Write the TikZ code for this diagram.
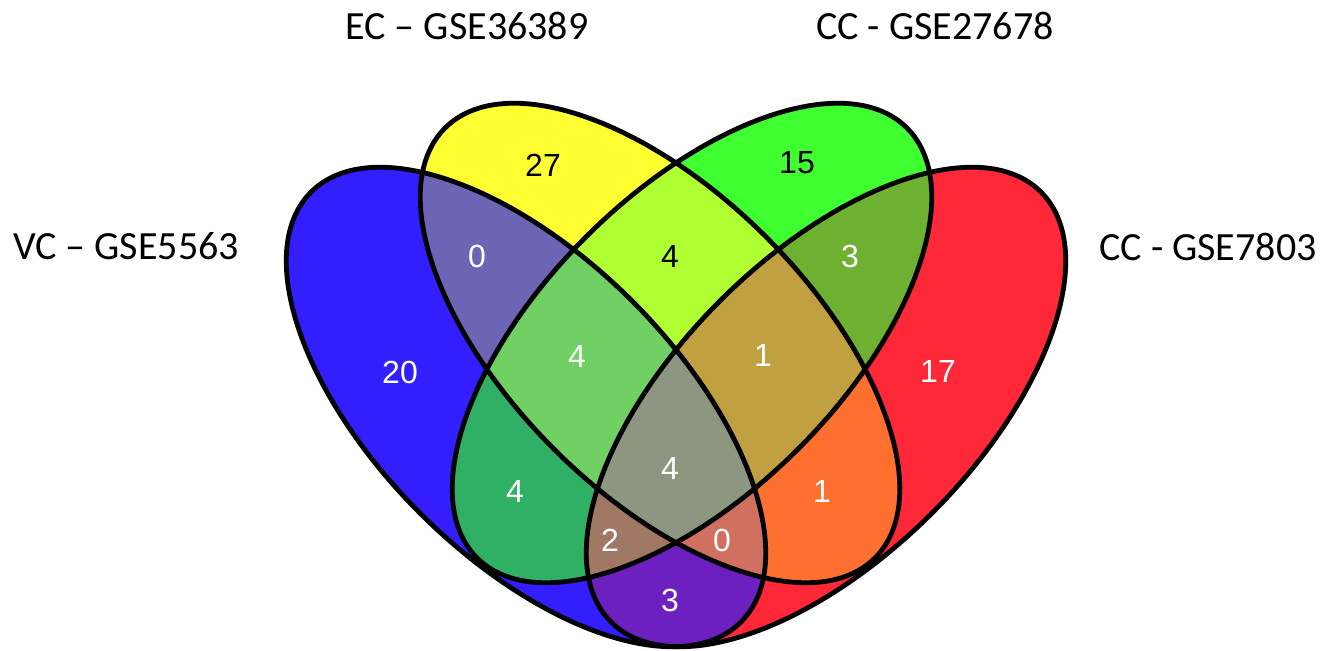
\documentclass[tikz,border=0pt]{standalone}
\usepackage{fontspec}
\setmainfont{Liberation Sans}
\newfontfamily\titlefont{Carlito}
\definecolor{cB}{RGB}{50,30,255}
\definecolor{cY}{RGB}{255,255,50}
\definecolor{cG}{RGB}{64,255,48}
\definecolor{cR}{RGB}{255,40,56}
\definecolor{cBY}{RGB}{108,100,180}
\definecolor{cYG}{RGB}{176,255,50}
\definecolor{cGR}{RGB}{110,176,50}
\definecolor{cBG}{RGB}{48,176,100}
\definecolor{cYR}{RGB}{255,112,48}
\definecolor{cBR}{RGB}{108,32,192}
\definecolor{cBYG}{RGB}{112,208,100}
\definecolor{cYGR}{RGB}{192,160,64}
\definecolor{cBGR}{RGB}{160,120,100}
\definecolor{cBYR}{RGB}{208,112,96}
\definecolor{cAll}{RGB}{140,150,128}
\newcommand{\shB}[1]{\path[#1,rotate around={-45:(526,244)}] (526,244) ellipse [x radius=304,y radius=150];}
\newcommand{\shY}[1]{\path[#1,rotate around={-45:(660,308)}] (660,308) ellipse [x radius=304,y radius=150];}
\newcommand{\shG}[1]{\path[#1,rotate around={45:(692,308)}] (692,308) ellipse [x radius=304,y radius=150];}
\newcommand{\shR}[1]{\path[#1,rotate around={45:(826,244)}] (826,244) ellipse [x radius=304,y radius=150];}
\begin{document}
\begin{tikzpicture}[x=0.5pt,y=0.5pt,
  num/.style={font=\fontsize{16}{19}\selectfont,text=white,inner sep=0pt},
  numdark/.style={num,text=black},
  setlabel/.style={font=\titlefont\fontsize{20}{24}\selectfont,inner sep=0pt},
  outline/.style={draw=black,line width=2.4pt}]
\useasboundingbox (0,0) rectangle (1326,651);
% single sets
\shB{fill=cB}
\shR{fill=cR}
\shY{fill=cY}
\shG{fill=cG}
% pairs
\begin{scope}\shB{clip}\shY{fill=cBY}\end{scope}
\begin{scope}\shB{clip}\shG{fill=cBG}\end{scope}
\begin{scope}\shB{clip}\shR{fill=cBR}\end{scope}
\begin{scope}\shY{clip}\shG{fill=cYG}\end{scope}
\begin{scope}\shY{clip}\shR{fill=cYR}\end{scope}
\begin{scope}\shG{clip}\shR{fill=cGR}\end{scope}
% triples
\begin{scope}\shB{clip}\shY{clip}\shG{fill=cBYG}\end{scope}
\begin{scope}\shY{clip}\shG{clip}\shR{fill=cYGR}\end{scope}
\begin{scope}\shB{clip}\shG{clip}\shR{fill=cBGR}\end{scope}
\begin{scope}\shB{clip}\shY{clip}\shR{fill=cBYR}\end{scope}
% all four
\begin{scope}\shB{clip}\shY{clip}\shG{clip}\shR{fill=cAll}\end{scope}
% outlines
\shB{outline}
\shY{outline}
\shG{outline}
\shR{outline}
% counts
\node[num] (n20) at (400,279) {20};
\node[numdark] (n27) at (543,486) {27};
\node[numdark] (n15) at (797,488) {15};
\node[num] (n17) at (938,279) {17};
\node[num] (nBY) at (477,395) {0};
\node[numdark] (nYG) at (670,394) {4};
\node[num] (nGR) at (850,395) {3};
\node[num] (nBYG) at (577,294) {4};
\node[num] (nYGR) at (763,295) {1};
\node[num] (nAll) at (670,182) {4};
\node[num] (nBG) at (515,159) {4};
\node[num] (nYR) at (822,159) {1};
\node[num] (nBGR) at (610,111) {2};
\node[num] (nBYR) at (722,111) {0};
\node[num] (nBR) at (670,51) {3};
% set labels
\node[setlabel] (lEC) at (467,625) {EC – GSE36389};
\node[setlabel] (lCC1) at (935,625) {CC - GSE27678};
\node[setlabel] (lVC) at (126,405) {VC – GSE5563};
\node[setlabel] (lCC2) at (1208,404) {CC - GSE7803};
\end{tikzpicture}
\end{document}
